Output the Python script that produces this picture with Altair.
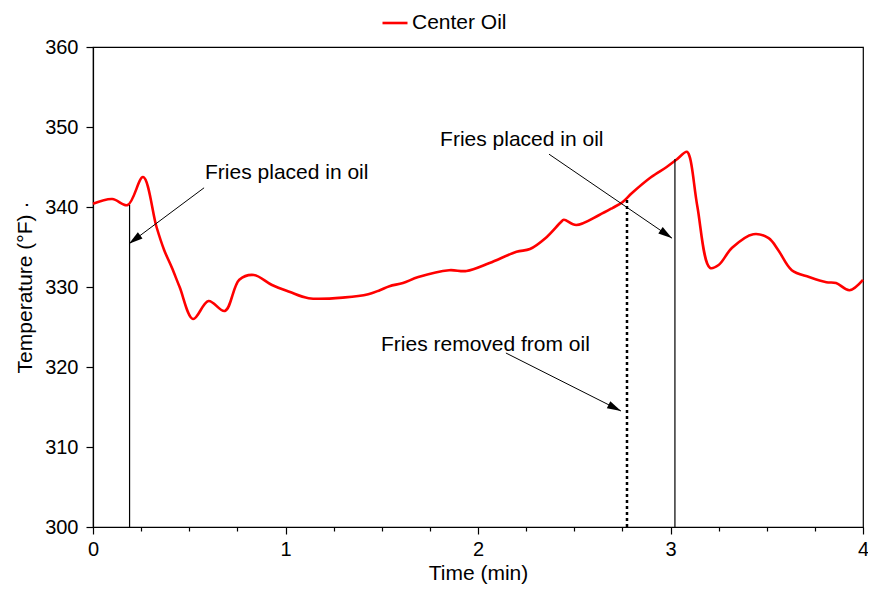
import altair as alt
import pandas as pd
import math

# ---- data ----
time_min = [0.0, 0.1, 0.18, 0.26, 0.33, 0.37, 0.41, 0.45, 0.52, 0.60, 0.685, 0.76, 0.836,
            0.93, 1.02, 1.12, 1.31, 1.43, 1.49, 1.54, 1.61, 1.69, 1.85, 1.94, 2.06,
            2.2, 2.27, 2.35, 2.43, 2.446, 2.51, 2.63, 2.70, 2.75, 2.80, 2.90, 2.98,
            3.03, 3.085, 3.1, 3.14, 3.205, 3.25, 3.32, 3.43, 3.51, 3.56, 3.63,
            3.72, 3.81, 3.86, 3.93, 4.0]
temp_f = [340.4, 341.0, 340.25, 343.75, 337.5, 334.6, 332.4, 330.0, 326.0, 328.25, 327.0, 330.9, 331.5,
          330.25, 329.4, 328.6, 328.7, 329.1, 329.6, 330.1, 330.5, 331.25, 332.1, 332.0, 333.0,
          334.4, 334.75, 336.1, 338.1, 338.4, 337.75, 339.0, 339.9, 340.6, 341.75, 343.75, 345.0,
          345.9, 346.9, 346.25, 340.0, 332.4, 332.75, 334.9, 336.6, 336.1, 334.6, 332.1,
          331.25, 330.6, 330.5, 329.6, 330.9]
series_name = "Center Oil"

# event markers (time, top temperature, style)
event_time = [0.19, 2.774, 3.023]
event_top = [340.25, 341.25, 346.0]
event_style = ["solid", "dotted", "solid"]

# annotations
note_text = ["Fries placed in oil", "Fries placed in oil", "Fries removed from oil"]
note_t = [0.582, 1.803, 1.496]
note_T = [343.5, 347.6, 322.0]
arrow_t0 = [0.577, 2.369, 2.145]
arrow_T0 = [342.4, 346.6, 321.75]
arrow_t1 = [0.187, 3.008, 2.743]
arrow_T1 = [335.4, 336.1, 314.5]

W, H = 770, 480
XMIN, XMAX, YMIN, YMAX = 0, 4, 300, 360
FONT = "Liberation Sans"

df = pd.DataFrame({"t": time_min, "T": temp_f, "s": series_name})

# arrow head angle computed in pixel space
def ang(t0, T0, t1, T1):
    dx = (t1 - t0) * W / (XMAX - XMIN)
    dy = -(T1 - T0) * H / (YMAX - YMIN)
    a = math.degrees(math.atan2(dx, -dy))
    return a % 360

arrows = pd.DataFrame({
    "t0": arrow_t0, "T0": arrow_T0, "t1": arrow_t1, "T1": arrow_T1,
    "a": [ang(a, b, c, d) for a, b, c, d in zip(arrow_t0, arrow_T0, arrow_t1, arrow_T1)],
})
notes = pd.DataFrame({"t": note_t, "T": note_T, "txt": note_text})
events = pd.DataFrame({"t": event_time, "top": event_top, "base": [YMIN] * 3, "style": event_style})

xs = alt.Scale(domain=[XMIN, XMAX], nice=False, zero=False)
ys = alt.Scale(domain=[YMIN, YMAX], nice=False, zero=False)

x_vals = [i * 0.25 for i in range(17)]
y_vals = list(range(300, 361, 5))

x_axis = alt.Axis(values=x_vals, title="Time (min)", grid=False, labelFlush=False,
                  labelExpr="datum.value % 1 === 0 ? format(datum.value, 'd') : ''",
                  tickSize={"condition": {"test": "datum.value % 1 === 0", "value": 7}, "value": 4},
                  labelPadding=5, titlePadding=3)
y_axis = alt.Axis(values=y_vals, title="Temperature (°F)  \u00b7", grid=False, labelFlush=False,
                  labelExpr="datum.value % 10 === 0 ? format(datum.value, 'd') : ''",
                  tickSize={"condition": {"test": "datum.value % 10 === 0", "value": 7}, "value": 5},
                  labelPadding=8, titlePadding=9)

line = alt.Chart(df).mark_line(strokeWidth=2.6, interpolate="catmull-rom").encode(
    x=alt.X("t:Q", scale=xs, axis=x_axis),
    y=alt.Y("T:Q", scale=ys, axis=y_axis),
    color=alt.Color("s:N", scale=alt.Scale(domain=[series_name], range=["#ff0000"]),
                    legend=alt.Legend(title=None, orient="none", legendX=288, legendY=-38,
                                      symbolType="stroke", symbolSize=625, symbolStrokeWidth=2.6,
                                      labelFontSize=21, labelFont=FONT, padding=0, labelOffset=3)),
)

solid = alt.Chart(events[events["style"] == "solid"]).mark_rule(color="black", strokeWidth=1.2).encode(
    x="t:Q", y="base:Q", y2="top:Q")
dotted = alt.Chart(events[events["style"] == "dotted"]).mark_rule(
    color="black", strokeWidth=2.5, strokeDash=[3, 3]).encode(x="t:Q", y="base:Q", y2="top:Q")

shafts = alt.Chart(arrows).mark_rule(color="black", strokeWidth=1).encode(
    x="t0:Q", y="T0:Q", x2="t1:Q", y2="T1:Q")
heads = alt.Chart(arrows).mark_point(
    shape="M0,0L-0.28,1L0.28,1Z", filled=True, color="black", opacity=1, size=780
).encode(x="t1:Q", y="T1:Q", angle=alt.Angle("a:Q", scale=None))

texts = alt.Chart(notes).mark_text(align="left", baseline="alphabetic", fontSize=21,
                                   font=FONT, color="black").encode(
    x="t:Q", y="T:Q", text="txt:N")

chart = alt.layer(line, solid, dotted, shafts, heads, texts).properties(
    width=W, height=H,
    autosize=alt.AutoSizeParams(type="none"),
    padding={"left": 85, "top": 39, "right": 5, "bottom": 60},
).configure_view(stroke="black", strokeWidth=1.2).configure_axis(
    domainColor="black", tickColor="black", labelColor="black", titleColor="black",
    labelFont=FONT, titleFont=FONT, labelFontSize=20, titleFontSize=21,
    titleFontWeight="normal", domainWidth=1.2, tickWidth=1.2,
).configure_legend(labelColor="black")

chart.save("out.html", embed_options={"renderer": "svg", "actions": False})
